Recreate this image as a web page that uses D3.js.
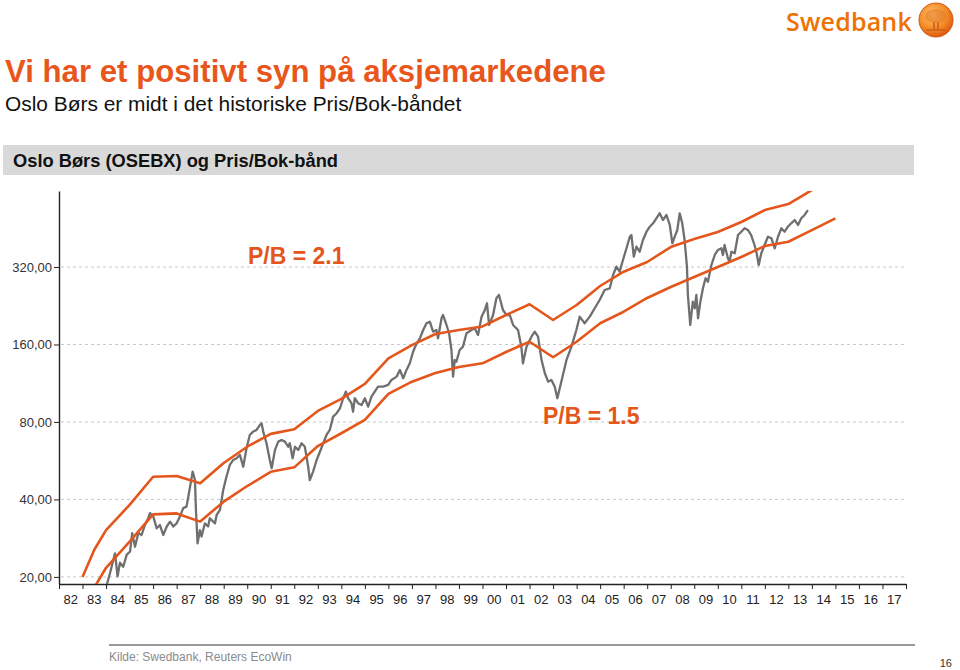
<!DOCTYPE html>
<html><head><meta charset="utf-8">
<script src="https://cdn.jsdelivr.net/npm/d3@7"></script>
<style>
body{margin:0;background:#fff;}
svg{display:block;font-family:"Liberation Sans",Arial,Helvetica,sans-serif;}
</style>
</head><body>
<svg id="c" width="960" height="670"></svg>
<script>
// ---------- data ----------
const yearLabels = ["82","83","84","85","86","87","88","89","90","91","92","93","94","95","96","97","98","99",
  "00","01","02","03","04","05","06","07","08","09","10","11","12","13","14","15","16","17"];
const yTicks = [20, 40, 80, 160, 320];

const bandYears = [1983,1983.5,1984,1985,1986,1987,1988,1989,1990,1991,1992,1993,1994,1995,1996,1997,1998,1999,
  2000,2001,2002,2003,2004,2005,2006,2007,2008,2009,2010,2011,2012,2013,2014,2015];
// P/B = 2.1
const upperBand = [20.0,25.5,30.4,38.1,49.0,49.3,46.2,55.4,64.1,71.9,74.9,88.3,98.3,112.4,141.4,159,175.7,182,
  188,208.3,229.3,199.2,227.8,270,306.8,334.6,382.6,411,437.6,478.6,532.7,562,637,703];
// P/B = 1.5
const lowerBand = [14.3,18.2,21.7,27.4,35.0,35.3,32.8,39.2,45.1,51.2,53.3,64.5,72.3,81.5,102.8,114.7,124,130.8,
  135.2,149.6,164,142.7,164,193.5,214.5,242.5,267.6,292.6,320,350,386,401,445,494.7];

// Oslo Børs (OSEBX) [year, index]
const osebx = [
 [1983.97,17.8],[1984.03,18.6],[1984.17,20.7],[1984.38,24.7],[1984.49,20.1],[1984.59,22.7],[1984.73,21.9],[1984.88,24.4],
 [1985.02,25.1],[1985.11,29.6],[1985.23,26.2],[1985.37,29.6],[1985.51,29.1],[1985.65,31.8],[1985.79,33.8],[1985.87,35.4],
 [1986.01,34.3],[1986.15,30.9],[1986.29,31.8],[1986.43,29.1],[1986.58,31.4],[1986.72,32.8],[1986.86,31.4],[1987.00,32.3],
 [1987.14,34.3],[1987.28,37.0],[1987.42,37.5],[1987.56,44.2],[1987.68,51.3],[1987.78,47.6],[1987.82,36.4],[1987.89,27.0],
 [1987.99,30.4],[1988.06,28.7],[1988.20,32.3],[1988.34,31.4],[1988.41,33.8],[1988.63,32.3],[1988.70,34.8],[1988.84,36.4],
 [1988.98,43.5],[1989.12,49.1],[1989.26,54.5],[1989.40,56.9],[1989.55,57.8],[1989.69,59.6],[1989.83,53.6],[1989.97,63.2],
 [1990.11,71.2],[1990.25,73.4],[1990.40,74.5],[1990.54,77.9],[1990.61,79.1],[1990.68,73.4],[1990.82,66.1],[1990.96,56.9],
 [1991.04,52.9],[1991.18,62.3],[1991.32,67.1],[1991.46,68.1],[1991.60,67.1],[1991.74,64.1],[1991.81,66.1],[1991.93,57.8],
 [1992.03,64.1],[1992.17,62.3],[1992.31,66.1],[1992.45,64.1],[1992.59,53.6],[1992.66,47.6],[1992.80,51.3],[1992.95,56.9],
 [1993.09,61.3],[1993.23,66.1],[1993.37,71.2],[1993.51,74.5],[1993.65,83.9],[1993.80,86.5],[1993.94,90.4],[1994.08,98.9],
 [1994.19,104.9],[1994.29,98.9],[1994.43,94.6],[1994.50,87.7],[1994.57,98.9],[1994.71,94.6],[1994.86,93.1],[1995.00,98.9],
 [1995.14,91.7],[1995.28,100.3],[1995.42,104.9],[1995.56,109.7],[1995.78,109.7],[1995.99,111.4],[1996.13,116.5],[1996.35,120.0],
 [1996.49,127.4],[1996.63,118.3],[1996.77,127.4],[1996.91,135.2],[1997.05,150.0],[1997.20,161.7],[1997.34,169.1],[1997.48,182.2],
 [1997.62,193.4],[1997.76,196.2],[1997.90,179.4],[1998.04,182.2],[1998.11,169.1],[1998.26,202.3],[1998.32,208.3],[1998.47,190.5],
 [1998.58,176.9],[1998.68,152.3],[1998.75,120.0],[1998.82,139.3],[1998.89,137.2],[1999.03,152.3],[1999.17,156.9],[1999.32,176.9],
 [1999.53,182.2],[1999.67,185.0],[1999.81,174.2],[1999.96,205.2],[2000.10,217.8],[2000.19,231.3],[2000.28,190.5],[2000.45,208.3],
 [2000.59,241.9],[2000.70,249.1],[2000.87,217.8],[2001.02,208.3],[2001.16,208.3],[2001.30,190.5],[2001.51,182.2],[2001.65,156.9],
 [2001.72,135.2],[2001.87,156.9],[2002.08,171.6],[2002.22,179.4],[2002.36,171.6],[2002.51,139.3],[2002.65,123.7],[2002.79,114.7],
 [2002.93,116.5],[2003.07,109.7],[2003.18,98.9],[2003.35,114.7],[2003.57,139.3],[2003.78,156.9],[2003.99,182.2],[2004.13,205.2],
 [2004.34,193.4],[2004.56,205.2],[2004.77,221.2],[2004.98,238.2],[2005.19,260.5],[2005.41,264.5],[2005.55,297.9],[2005.69,320.9],
 [2005.83,306.9],[2005.97,340.7],[2006.12,378.3],[2006.26,419.6],[2006.33,426.0],[2006.43,350.9],[2006.54,383.7],[2006.68,367.0],
 [2006.82,407.4],[2006.97,438.8],[2007.11,458.8],[2007.25,473.0],[2007.39,494.7],[2007.53,517.3],[2007.67,487.2],[2007.82,509.6],
 [2007.96,466.0],[2008.07,395.6],[2008.17,419.6],[2008.28,445.6],[2008.38,517.3],[2008.49,473.0],[2008.59,407.4],[2008.69,320.9],
 [2008.73,249.1],[2008.83,190.5],[2008.94,234.6],[2009.02,221.2],[2009.09,249.1],[2009.16,202.3],[2009.26,234.6],[2009.37,264.5],
 [2009.48,289.3],[2009.58,280.6],[2009.73,325.8],[2009.87,356.3],[2010.01,372.6],[2010.15,378.3],[2010.22,356.3],[2010.29,389.6],
 [2010.43,346.0],[2010.50,335.6],[2010.58,367.0],[2010.72,361.8],[2010.86,426.0],[2011.00,438.8],[2011.14,452.4],[2011.28,445.6],
 [2011.42,426.0],[2011.56,389.6],[2011.64,367.0],[2011.74,325.8],[2011.85,361.8],[2011.99,389.6],[2012.13,419.6],[2012.28,413.7],
 [2012.42,378.3],[2012.56,419.6],[2012.70,452.4],[2012.84,438.8],[2012.98,458.8],[2013.12,473.0],[2013.27,487.2],[2013.41,466.0],
 [2013.55,494.7],[2013.69,509.6],[2013.83,532.8]
];

// ---------- layout ----------
const svg = d3.select('#c');
const P = {left:59, right:906, top:191, bottom:584};
const ORANGE = '#E4561B';
const x = d3.scaleLinear().domain([1982, 2018]).range([P.left, P.right]);
const y = d3.scaleLog().domain([18.77, 631.6]).range([P.bottom, P.top]);

// Title block
svg.append('text').attr('x',5).attr('y',82).attr('font-size',31.2).attr('font-weight','bold')
  .attr('fill','#E8561C').text('Vi har et positivt syn på aksjemarkedene');
svg.append('text').attr('x',5).attr('y',111).attr('font-size',20.9).attr('fill','#111')
  .text('Oslo Børs er midt i det historiske Pris/Bok-båndet');
svg.append('rect').attr('x',3).attr('y',145).attr('width',911).attr('height',30).attr('fill','#D9D9D9');
svg.append('text').attr('x',13).attr('y',166.5).attr('font-size',18.3).attr('font-weight','bold').attr('fill','#111')
  .text('Oslo Børs (OSEBX) og Pris/Bok-bånd');

// Logo
const defs = svg.append('defs');
const rg = defs.append('radialGradient').attr('id','lg').attr('cx','40%').attr('cy','35%').attr('r','70%');
rg.append('stop').attr('offset','0%').attr('stop-color','#FFC36B');
rg.append('stop').attr('offset','60%').attr('stop-color','#F48A26');
rg.append('stop').attr('offset','100%').attr('stop-color','#D9530D');
svg.append('text').attr('x',786).attr('y',31).attr('font-family','"Open Sans",Lato,sans-serif')
  .attr('font-size',25).attr('font-weight',600).attr('fill','#EE7203').attr('letter-spacing',0.2).text('Swedbank');
svg.append('circle').attr('cx',936).attr('cy',20).attr('r',17).attr('fill','url(#lg)').attr('stroke','#D2560E').attr('stroke-width',1);
svg.append('ellipse').attr('cx',936).attr('cy',16).attr('rx',11).attr('ry',7).attr('fill','#E07A2A').attr('opacity',0.55);
svg.append('path').attr('d','M934,22 L934,30 M938,22 L938,30 M926,30 L946,30').attr('stroke','#C8611C').attr('stroke-width',1.6).attr('fill','none');

// clip
defs.append('clipPath').attr('id','plot').append('rect')
  .attr('x',P.left).attr('y',P.top).attr('width',P.right-P.left).attr('height',P.bottom-P.top);

// gridlines
svg.append('g').selectAll('line').data(yTicks).join('line')
  .attr('x1',P.left+2).attr('x2',P.right).attr('y1',d=>y(d)).attr('y2',d=>y(d))
  .attr('stroke','#C8C8C8').attr('stroke-width',1).attr('stroke-dasharray','3,3');

// y axis
const yAxis = svg.append('g').attr('transform',`translate(${P.left},0)`)
  .call(d3.axisLeft(y).tickValues(yTicks).tickSize(5).tickSizeOuter(0).tickPadding(2)
    .tickFormat(d=>d.toFixed(2).replace('.',',')));
yAxis.select('.domain').attr('stroke','#222').attr('stroke-width',1.4);
yAxis.selectAll('.tick line').attr('stroke','#222');
yAxis.selectAll('text').attr('font-size',13).attr('fill','#333').attr('font-family','"Liberation Sans",Arial,sans-serif');

// x axis
const xAxis = svg.append('g').attr('transform',`translate(0,${P.bottom})`)
  .call(d3.axisBottom(x).tickValues(d3.range(1982, 2019)).tickSize(5).tickSizeOuter(0).tickFormat(''));
xAxis.select('.domain').attr('stroke','#222').attr('stroke-width',1.4);
xAxis.selectAll('.tick line').attr('stroke','#222');
svg.append('g').selectAll('text').data(yearLabels).join('text')
  .attr('x',(d,i)=>x(1982+i+0.5)).attr('y',604).attr('text-anchor','middle')
  .attr('font-size',13).attr('fill','#222').text(d=>d);

// series
const plot = svg.append('g').attr('clip-path','url(#plot)');
const line = d3.line().x(d=>x(d[0])).y(d=>y(d[1]));
plot.append('path').datum(osebx).attr('d',line).attr('fill','none')
  .attr('stroke','#6F6F6F').attr('stroke-width',2.3).attr('stroke-linejoin','round');
const up = bandYears.map((t,i)=>[t, upperBand[i]]);
const lo = bandYears.map((t,i)=>[t, lowerBand[i]]);
[up, lo].forEach(s=>{
  plot.append('path').datum(s).attr('d',line).attr('fill','none')
    .attr('stroke',ORANGE).attr('stroke-width',2.6).attr('stroke-linejoin','round');
});

// band labels
svg.append('text').attr('x',248).attr('y',263.5).attr('font-size',23).attr('font-weight','bold')
  .attr('fill',ORANGE).text('P/B = 2.1');
svg.append('text').attr('x',543).attr('y',424).attr('font-size',23).attr('font-weight','bold')
  .attr('fill',ORANGE).text('P/B = 1.5');

// footer
svg.append('line').attr('x1',109).attr('x2',915).attr('y1',645).attr('y2',645)
  .attr('stroke','#9A9A9A').attr('stroke-width',2);
svg.append('text').attr('x',109).attr('y',661).attr('font-size',12).attr('fill','#8A8A8A')
  .text('Kilde: Swedbank, Reuters EcoWin');
svg.append('text').attr('x',952).attr('y',667).attr('text-anchor','end').attr('font-size',11).attr('fill','#333').text('16');
</script>
</body></html>
